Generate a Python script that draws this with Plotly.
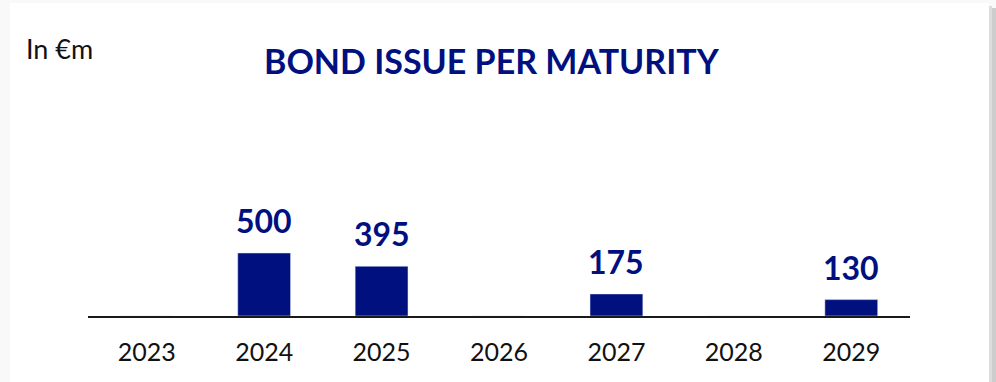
import plotly.graph_objects as go

years = ["2023", "2024", "2025", "2026", "2027", "2028", "2029"]
amounts = [0, 500, 395, 0, 175, 0, 130]
labels = ["", "500", "395", "", "175", "", "130"]

NAVY = "#00107F"
W, H = 996, 382
ML, MR, MT, MB = 88, 86, 100, 66

fig = go.Figure()
fig.add_trace(go.Bar(x=years, y=amounts, marker_color=NAVY, width=0.45,
                     hoverinfo="skip", showlegend=False))

for i, (v, t) in enumerate(zip(amounts, labels)):
    if t:
        fig.add_annotation(x=i, y=v, text=t, showarrow=False, yanchor="bottom",
                           yshift=11, font=dict(family="Lato", size=32, color=NAVY, weight="bold"))

def px_x(p):
    return (p - ML) / (W - ML - MR)

def px_y(p):
    return 1 - (p - MT) / (H - MT - MB)

# card background and shadow
fig.add_shape(type="rect", xref="paper", yref="paper", x0=px_x(10), x1=px_x(989),
              y0=px_y(382), y1=px_y(3), fillcolor="white", line_width=0, layer="below")
fig.add_shape(type="rect", xref="paper", yref="paper", x0=px_x(989), x1=px_x(992),
              y0=px_y(382), y1=px_y(6), fillcolor="#dcdcdc", line_width=0, layer="below")
fig.add_shape(type="rect", xref="paper", yref="paper", x0=px_x(992), x1=px_x(996),
              y0=px_y(382), y1=px_y(8), fillcolor="#cdcdcd", line_width=0, layer="below")

fig.add_annotation(xref="paper", yref="paper", x=px_x(492), y=px_y(60), text="BOND ISSUE PER MATURITY",
                   showarrow=False, xanchor="center", yanchor="middle",
                   font=dict(family="Lato", size=34, color=NAVY, weight="bold"))
fig.add_annotation(xref="paper", yref="paper", x=px_x(24), y=px_y(49), text="In €m",
                   showarrow=False, xanchor="left", yanchor="middle",
                   font=dict(family="Lato", size=27, color="#111111"))

fig.update_layout(
    width=W, height=H,
    margin=dict(l=ML, r=MR, t=MT, b=MB, autoexpand=False),
    paper_bgcolor="#f9f9f9", plot_bgcolor="rgba(0,0,0,0)",
    xaxis=dict(type="category", range=[-0.5, 6.5], showline=True, linecolor="#1a1a1a",
               linewidth=2, ticks="", showgrid=False, zeroline=False, automargin=False,
               tickfont=dict(family="Lato", size=25, color="#111111"),
               ticklabelstandoff=13),
    yaxis=dict(range=[0, 1714], visible=False, showgrid=False, zeroline=False, automargin=False),
)

fig.write_html("out.html")
